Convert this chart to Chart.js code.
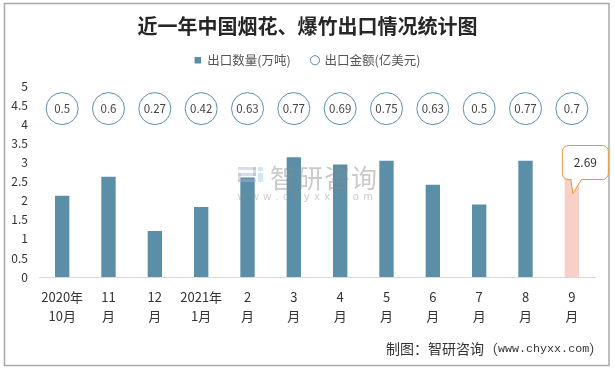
<!DOCTYPE html>
<html>
<head>
<meta charset="utf-8">
<style>
  html, body { margin: 0; padding: 0; background: #fff; }
  #wrap { position: absolute; left: 0; top: 0; width: 615px; height: 369px; }
</style>
<script src="https://cdn.jsdelivr.net/npm/chart.js@4"></script>
</head>
<body>
<div id="wrap"><canvas id="chart" width="615" height="369"></canvas></div>
<script>
// Подписи и значения
const categories = [['2020年', '10月'], ['11', '月'], ['12', '月'], ['2021年', '1月'], ['2', '月'], ['3', '月'],
  ['4', '月'], ['5', '月'], ['6', '月'], ['7', '月'], ['8', '月'], ['9', '月']];
const exportVolume = [2.13, 2.63, 1.21, 1.84, 2.61, 3.14, 2.95, 3.05, 2.42, 1.9, 3.05, 2.69];
const exportValue = [0.5, 0.6, 0.27, 0.42, 0.63, 0.77, 0.69, 0.75, 0.63, 0.5, 0.77, 0.7];
const bubbleLevel = [4.42, 4.42, 4.42, 4.42, 4.42, 4.42, 4.42, 4.42, 4.42, 4.42, 4.42, 4.42];
const yTicks = [0, 0.5, 1, 1.5, 2, 2.5, 3, 3.5, 4, 4.5, 5];
const titleText = '近一年中国烟花、爆竹出口情况统计图';
const barColors = exportVolume.map((v, i) => i === exportVolume.length - 1 ? '#f8d0c8' : '#5b8fa8');

const sansFont = '"Noto Sans CJK SC", "Noto Sans", sans-serif';

// Рамка, водяной знак, кружки и подпись
const decorPlugin = {
  id: 'decor',
  beforeDraw(chart) {
    const c = chart.ctx;
    c.save();
    c.strokeStyle = '#a8a8a8';
    c.lineWidth = 1.5;
    c.strokeRect(4.5, 3.5, 604.5, 362);
    c.restore();
  },
  afterDraw(chart) {
    const c = chart.ctx;
    c.save();
    // водяной знак
    c.globalAlpha = 0.45;
    c.fillStyle = '#a9b4d0';
    c.fillRect(238, 167, 18, 3);
    c.fillRect(253, 167, 3, 9);
    c.fillRect(238, 173, 18, 3);
    c.fillRect(238, 173, 3, 9);
    c.fillRect(238, 179, 18, 3);
    c.fillStyle = '#9ccbea';
    c.fillRect(258, 167, 5, 4);
    c.fillRect(258, 173, 5, 9);
    c.fillStyle = '#8a8a8a';
    c.font = '26px "Noto Sans CJK SC"';
    c.textAlign = 'left';
    c.textBaseline = 'middle';
    c.letterSpacing = '1px';
    c.fillText('智研咨询', 270, 178);
    c.font = '11px "Liberation Sans"';
    c.letterSpacing = '4.7px';
    c.fillText('www.chyxx.com', 238, 197);
    c.letterSpacing = '0px';
    c.globalAlpha = 1;

    // подпись-выноска над последним столбцом
    const last = exportVolume.length - 1;
    const bar = chart.getDatasetMeta(1).data[last];
    const x = bar.x - 9.5, y = bar.y - 29, w = 46, h = 34;
    c.beginPath();
    c.roundRect(x, y, w, h, 6);
    c.fillStyle = '#fff';
    c.fill();
    c.strokeStyle = '#e8963c';
    c.lineWidth = 1;
    c.stroke();
    c.beginPath();
    c.moveTo(bar.x - 1, y + h - 0.5);
    c.lineTo(bar.x + 1, bar.y + 19);
    c.lineTo(bar.x + 10, y + h - 0.5);
    c.fillStyle = '#fff';
    c.fill();
    c.stroke();
    c.fillStyle = '#333';
    c.font = '12px "Noto Sans CJK SC"';
    c.textAlign = 'center';
    c.textBaseline = 'middle';
    c.fillText(String(exportVolume[last]), x + w / 2, y + h / 2);

    // подписи в кружках
    const meta = chart.getDatasetMeta(0);
    c.fillStyle = '#444';
    c.font = '11.5px "Noto Sans CJK SC"';
    meta.data.forEach((pt, i) => {
      c.fillText(String(exportValue[i]), pt.x, pt.y + 0.5);
    });

    // источник
    c.fillStyle = '#333';
    c.textAlign = 'left';
    c.font = '14px "Noto Sans CJK SC"';
    c.fillText('制图：智研咨询（', 386, 349);
    c.fillText('）', 589, 349);
    c.font = '11.7px "Liberation Mono"';
    c.fillText('www.chyxx.com', 498, 349);
    c.restore();
  }
};

new Chart(document.getElementById('chart').getContext('2d'), {
  type: 'bar',
  data: {
    labels: categories,
    datasets: [
      {
        type: 'line',
        label: '出口金额(亿美元)',
        data: bubbleLevel,
        showLine: false,
        backgroundColor: '#fff',
        borderColor: '#5b8fa8',
        pointStyle: 'circle',
        pointRadius: 16,
        pointHoverRadius: 16,
        pointBackgroundColor: '#fff',
        pointBorderColor: '#5b8fa8',
        pointBorderWidth: 1,
        order: 0
      },
      {
        label: '出口数量(万吨)',
        data: exportVolume,
        backgroundColor: barColors,
        pointStyle: 'rect',
        barPercentage: 0.31,
        categoryPercentage: 1,
        order: 1
      }
    ]
  },
  options: {
    responsive: false,
    animation: false,
    layout: { padding: 0 },
    plugins: {
      tooltip: { enabled: false },
      title: {
        display: true,
        text: titleText,
        color: '#262626',
        font: { family: sansFont, size: 20, weight: 'bold', lineHeight: 0.7 },
        padding: { top: 19, bottom: 0 }
      },
      // пустой отступ под легендой
      subtitle: {
        display: true,
        text: '',
        weight: 500,
        font: { size: 10, lineHeight: 1 },
        padding: 0
      },
      legend: {
        display: true,
        position: 'top',
        reverse: true,
        labels: {
          color: '#555',
          font: { family: sansFont, size: 12.5 },
          usePointStyle: true,
          boxHeight: 6.5,
          boxWidth: 6.5,
          padding: 21
        }
      }
    },
    scales: {
      x: {
        afterFit(axis) { axis.height = 92; },
        grid: { display: false, drawTicks: false },
        border: { color: '#d9d9d9', width: 1 },
        ticks: { color: '#333', font: { family: sansFont, size: 13, lineHeight: 1.45 }, maxRotation: 0, autoSkip: false, padding: 11 }
      },
      y: {
        min: 0,
        max: 5,
        afterBuildTicks(axis) { axis.ticks = yTicks.map(v => ({ value: v })); },
        afterFit(axis) { axis.width = 39; },
        grid: { display: false, drawTicks: false },
        border: { display: false },
        ticks: { color: '#333', font: { family: sansFont, size: 12 }, padding: 11, callback: v => String(v) }
      },
      // пустая ось справа, чтобы заголовок стоял по центру всей картинки
      yRight: {
        position: 'right',
        afterFit(axis) { axis.width = 20; },
        grid: { display: false, drawTicks: false },
        border: { display: false },
        ticks: { display: false }
      }
    }
  },
  plugins: [decorPlugin]
});
</script>
</body>
</html>
